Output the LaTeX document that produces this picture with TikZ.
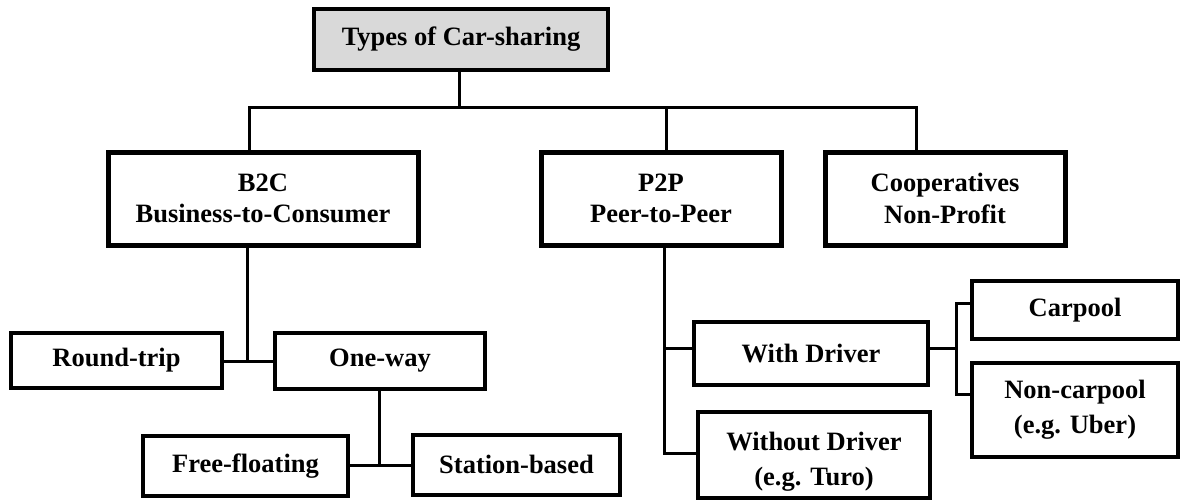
\documentclass[tikz,border=0pt]{standalone}
\usepackage{fontspec}
\setmainfont{Liberation Serif}
\begin{document}
\begin{tikzpicture}[x=1pt,y=-1pt,
  box/.style={draw, line width=4pt, fill=white, align=center, inner sep=0pt,
    font=\fontsize{26.5}{31.5}\selectfont\bfseries},
  wide/.style={font=\fontsize{26.5}{35}\selectfont\bfseries},
  thickbox/.style={box, line width=5pt},
  conn/.style={line width=3pt, line cap=rect}]
\useasboundingbox (0,0) rectangle (1180,500);
\fill[white] (0,0) rectangle (1180,500);
% nodes
\node[box, fill={rgb,255:red,217;green,217;blue,217}, minimum width=294pt, minimum height=61pt] (top) at (461,39.5) {Types of Car-sharing};
\node[thickbox, minimum width=310pt, minimum height=93pt] (b2c) at (263,198.5) {B2C\\Business-to-Consumer};
\node[thickbox, minimum width=240pt, minimum height=93pt] (p2p) at (661,198.5) {P2P\\Peer-to-Peer};
\node[thickbox, minimum width=240pt, minimum height=93pt] (coop) at (945,198.5) {Cooperatives\\Non-Profit};
\node[box, minimum width=211pt, minimum height=55pt] (round) at (116.5,360.5) {Round-trip};
\node[box, minimum width=210pt, minimum height=56pt] (oneway) at (380,361) {One-way};
\node[box, minimum width=205pt, minimum height=60pt] (free) at (245.5,466) {Free-floating};
\node[box, minimum width=207pt, minimum height=60pt] (station) at (516.5,464.5) {Station-based};
\node[box, minimum width=234pt, minimum height=63pt] (with) at (811,353.5) {With Driver};
\node[box, wide, minimum width=232pt, minimum height=86pt] (without) at (814,455) {\rule{0pt}{32pt}Without Driver\\(e.g. Turo)};
\node[box, minimum width=206pt, minimum height=58pt] (carpool) at (1075,310) {Carpool};
\node[box, wide, minimum width=206pt, minimum height=94pt] (noncar) at (1075,410) {Non-carpool\\(e.g. Uber)};
% junctions
\coordinate (jt) at (459,108);
\coordinate (jb) at (249,108);
\coordinate (jp) at (666,108);
\coordinate (jc) at (916,108);
\coordinate (jr) at (247,361);
\coordinate (jo) at (379,465);
\coordinate (jw) at (664,348);
\coordinate (jwo) at (664,453);
\coordinate (jd) at (956,348);
\coordinate (jd1) at (956,303);
\coordinate (jd2) at (956,394);
% connectors
\draw[conn] (jt |- top.south) -- (jt);
\draw[conn] (jb |- b2c.north) -- (jb) -- (jc) -- (jc |- coop.north);
\draw[conn] (jp) -- (jp |- p2p.north);
\draw[conn] (jr |- b2c.south) -- (jr);
\draw[conn] (round.east |- jr) -- (oneway.west |- jr);
\draw[conn] (jo |- oneway.south) -- (jo);
\draw[conn] (free.east |- jo) -- (station.west |- jo);
\draw[conn] (jw |- p2p.south) -- (jwo) -- (jwo -| without.west);
\draw[conn] (jw) -- (jw -| with.west);
\draw[conn] (with.east |- jd) -- (jd);
\draw[conn] (jd1 -| carpool.west) -- (jd1) -- (jd2) -- (jd2 -| noncar.west);
\end{tikzpicture}
\end{document}
